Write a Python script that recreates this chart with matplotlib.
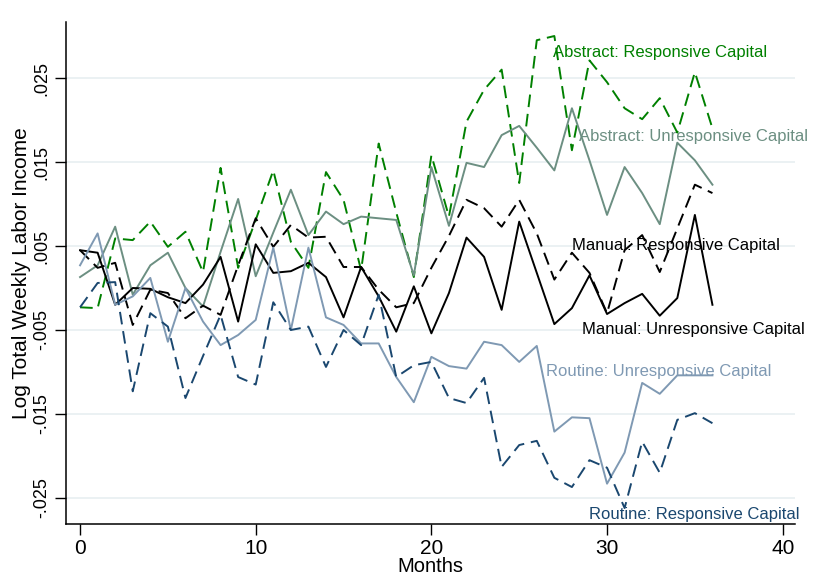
import matplotlib
matplotlib.use("Agg")
import matplotlib.pyplot as plt
import numpy as np

plt.rcParams['font.family'] = ['Liberation Sans', 'DejaVu Sans']

months = list(range(37))

abstract_resp = [-0.0023, -0.0024, 0.0059, 0.0057, 0.0079, 0.0049, 0.0067, 0.0019, 0.0143, 0.0024,
                 0.0081, 0.0140, 0.0055, 0.0024, 0.0138, 0.0105, 0.0021, 0.0172, 0.0090, 0.0013,
                 0.0158, 0.0085, 0.0198, 0.0236, 0.0260, 0.0125, 0.0295, 0.0300, 0.0164, 0.0271,
                 0.0245, 0.0214, 0.0201, 0.0226, 0.0185, 0.0257, 0.0190]
abstract_unresp = [0.0013, 0.0027, 0.0073, -0.0008, 0.0027, 0.0042, 0.0000, -0.0022, 0.0043, 0.0106,
                   0.0014, 0.0066, 0.0117, 0.0063, 0.0091, 0.0076, 0.0085, 0.0083, 0.0081, 0.0015,
                   0.0144, 0.0074, 0.0149, 0.0144, 0.0182, 0.0193, 0.0167, 0.0140, 0.0214, 0.0152,
                   0.0087, 0.0144, 0.0113, 0.0076, 0.0173, 0.0152, 0.0123]
manual_resp = [0.0045, 0.0024, 0.0030, -0.0044, -0.0002, -0.0006, -0.0036, -0.0021, -0.0032, 0.0027,
               0.0083, 0.0049, 0.0075, 0.0060, 0.0061, 0.0025, 0.0025, -0.0002, -0.0023, -0.0018,
               0.0024, 0.0062, 0.0105, 0.0095, 0.0073, 0.0105, 0.0065, 0.0010, 0.0042, 0.0018,
               -0.0030, 0.0045, 0.0063, 0.0019, 0.0071, 0.0123, 0.0113]
manual_unresp = [0.0045, 0.0042, -0.0020, 0.0000, -0.0001, -0.0011, -0.0018, 0.0004, 0.0037, -0.0040,
                 0.0052, 0.0018, 0.0020, 0.0030, 0.0013, -0.0035, 0.0025, -0.0010, -0.0052, 0.0002,
                 -0.0054, -0.0006, 0.0060, 0.0037, -0.0026, 0.0079, 0.0018, -0.0043, -0.0024, 0.0015,
                 -0.0031, -0.0018, -0.0007, -0.0033, -0.0012, 0.0087, -0.0020]
routine_unresp = [0.0027, 0.0065, -0.0020, -0.0010, 0.0012, -0.0064, 0.0000, -0.0040, -0.0068, -0.0056,
                  -0.0038, 0.0048, -0.0050, 0.0048, -0.0035, -0.0044, -0.0066, -0.0066, -0.0106, -0.0136,
                  -0.0082, -0.0093, -0.0096, -0.0064, -0.0068, -0.0088, -0.0069, -0.0171, -0.0154, -0.0155,
                  -0.0233, -0.0196, -0.0113, -0.0126, -0.0104, -0.0104, -0.0104]
routine_resp = [-0.0023, 0.0006, 0.0007, -0.0123, -0.0030, -0.0046, -0.0131, -0.0081, -0.0032, -0.0106,
                -0.0115, -0.0017, -0.0050, -0.0046, -0.0094, -0.0050, -0.0068, -0.0008, -0.0106, -0.0092,
                -0.0088, -0.0131, -0.0137, -0.0107, -0.0213, -0.0187, -0.0182, -0.0226, -0.0237, -0.0205,
                -0.0214, -0.0262, -0.0183, -0.0220, -0.0157, -0.0149, -0.0161]

yticks = [-0.025, -0.015, -0.005, 0.005, 0.015, 0.025]
ytick_labels = ["-.025", "-.015", "-.005", ".005", ".015", ".025"]
xticks = [0, 10, 20, 30, 40]

labels = ["Abstract: Responsive Capital", "Abstract: Unresponsive Capital",
          "Manual: Responsive Capital", "Manual: Unresponsive Capital",
          "Routine: Unresponsive Capital", "Routine: Responsive Capital"]
label_pos = [(26.9, 0.0280), (28.4, 0.0180), (28.0, 0.0050), (28.6, -0.0050), (26.55, -0.0100), (28.95, -0.0270)]

c_green = "#008000"
c_agray = "#6c8f82"
c_black = "#000000"
c_rlight = "#7f99b3"
c_rdark = "#1a476f"

fig = plt.figure(figsize=(8.13, 5.77), dpi=100)
ax = fig.add_axes([66/813, 1-524/577, (795-66)/813, (524-22)/577])

dash = (0, (6.5, 3.5))
lw = 1.4
series = [
    (abstract_resp, c_green, dash),
    (abstract_unresp, c_agray, '-'),
    (manual_resp, c_black, dash),
    (manual_unresp, c_black, '-'),
    (routine_unresp, c_rlight, '-'),
    (routine_resp, c_rdark, dash),
]
for vals, col, ls in series:
    ax.plot(months, vals, color=col, linestyle=ls, linewidth=lw)

label_colors = [c_green, c_agray, c_black, c_black, c_rlight, c_rdark]
for (x, y), txt, col in zip(label_pos, labels, label_colors):
    ax.text(x, y, txt, color=col, fontsize=12, ha='left', va='center')

ax.set_xlim(-0.8, 40.7)
ax.set_ylim(-0.0281, 0.03167)
ax.set_yticks(yticks)
ax.set_yticklabels(ytick_labels, rotation=90, va='center', fontsize=13)
ax.set_xticks(xticks)
ax.tick_params(axis='x', labelsize=15, length=8, width=1, pad=3)
ax.tick_params(axis='y', length=8, width=1, pad=3)
ax.grid(axis='y', color='#e8eff1', linewidth=1.2)
ax.set_axisbelow(True)
for s in ['top', 'right']:
    ax.spines[s].set_visible(False)
for s in ['left', 'bottom']:
    ax.spines[s].set_linewidth(1.1)
ax.set_ylabel("Log Total Weekly Labor Income", fontsize=15, labelpad=2)
ax.set_xlabel("Months", fontsize=14.5)
ax.xaxis.set_label_coords(0.5, -(557 - 524) / 502)

fig.savefig("out.png", dpi=100)
